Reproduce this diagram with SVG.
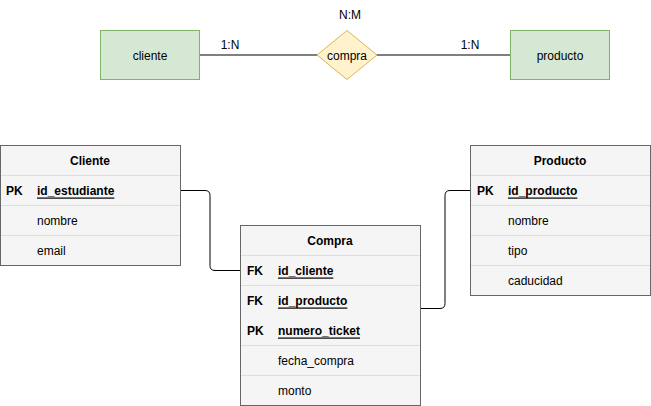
<svg xmlns="http://www.w3.org/2000/svg" width="651" height="406" viewBox="0 0 651 406">
<style>
text{font-family:"Liberation Sans",Arial,sans-serif;font-size:12px;fill:#000}
.c{text-anchor:middle;dominant-baseline:central}
.l{dominant-baseline:central}
.b{font-weight:bold}
.u{text-decoration:underline}
.ent{fill:#d5e8d4;stroke:#82b366}
.rel{fill:#fff2cc;stroke:#d6b656}
.tbl{fill:#f5f5f5;stroke:#666666}
.sep{stroke:#dddddd;fill:none}
.conn{stroke:#000;fill:none}
</style>
<rect width="651" height="406" fill="#fff"/>
<g id="connectors">
<path class="conn" d="M200,55 H317"/>
<path class="conn" d="M377,55 H510"/>
<path class="conn" d="M180,190.5 H205 Q210,190.5 210,195.5 V265.5 Q210,270.5 215,270.5 H240"/>
<path class="conn" d="M470,190.5 H450 Q445,190.5 445,195.5 V303.5 Q445,308.5 440,308.5 H420"/>
<text x="230" y="45" class="c">1:N</text>
<text x="470" y="45" class="c">1:N</text>
<text x="350" y="15" class="c">N:M</text>
</g>
<g id="cliente">
<rect class="ent" x="100.5" y="30.5" width="99" height="49"/>
<text x="150" y="55.5" class="c">cliente</text>
</g>
<g id="producto">
<rect class="ent" x="510.5" y="30.5" width="99" height="49"/>
<text x="560" y="55.5" class="c">producto</text>
</g>
<g id="compra">
<path class="rel" d="M347,30.5 L377,55 L347,79.5 L317,55 Z"/>
<text x="347" y="55.5" class="c">compra</text>
</g>
<g id="tabla-cliente">
<rect class="tbl" x="0.5" y="145.5" width="180" height="120"/>
<line class="sep" x1="1" y1="175.5" x2="180" y2="175.5"/>
<line class="sep" x1="1" y1="205.5" x2="180" y2="205.5"/>
<line class="sep" x1="1" y1="235.5" x2="180" y2="235.5"/>
<text x="90" y="160.5" class="c b">Cliente</text>
<text x="6" y="190.5" class="l b">PK</text>
<text x="37" y="190.5" class="l b u">id_estudiante</text>
<text x="37" y="220.5" class="l">nombre</text>
<text x="37" y="250.5" class="l">email</text>
</g>
<g id="tabla-compra">
<rect class="tbl" x="240.5" y="225.5" width="180" height="180"/>
<line class="sep" x1="241" y1="255.5" x2="420" y2="255.5"/>
<line class="sep" x1="241" y1="285.5" x2="420" y2="285.5"/>
<line class="sep" x1="241" y1="345.5" x2="420" y2="345.5"/>
<line class="sep" x1="241" y1="375.5" x2="420" y2="375.5"/>
<text x="330" y="240.5" class="c b">Compra</text>
<text x="247" y="270.5" class="l b">FK</text>
<text x="278" y="270.5" class="l b u">id_cliente</text>
<text x="247" y="300.5" class="l b">FK</text>
<text x="278" y="300.5" class="l b u">id_producto</text>
<text x="247" y="330.5" class="l b">PK</text>
<text x="278" y="330.5" class="l b u">numero_ticket</text>
<text x="278" y="360.5" class="l">fecha_compra</text>
<text x="278" y="390.5" class="l">monto</text>
</g>
<g id="tabla-producto">
<rect class="tbl" x="470.5" y="145.5" width="180" height="150"/>
<line class="sep" x1="471" y1="175.5" x2="650" y2="175.5"/>
<line class="sep" x1="471" y1="205.5" x2="650" y2="205.5"/>
<line class="sep" x1="471" y1="235.5" x2="650" y2="235.5"/>
<line class="sep" x1="471" y1="265.5" x2="650" y2="265.5"/>
<text x="560" y="160.5" class="c b">Producto</text>
<text x="477" y="190.5" class="l b">PK</text>
<text x="508" y="190.5" class="l b u">id_producto</text>
<text x="508" y="220.5" class="l">nombre</text>
<text x="508" y="250.5" class="l">tipo</text>
<text x="508" y="280.5" class="l">caducidad</text>
</g>
</svg>
